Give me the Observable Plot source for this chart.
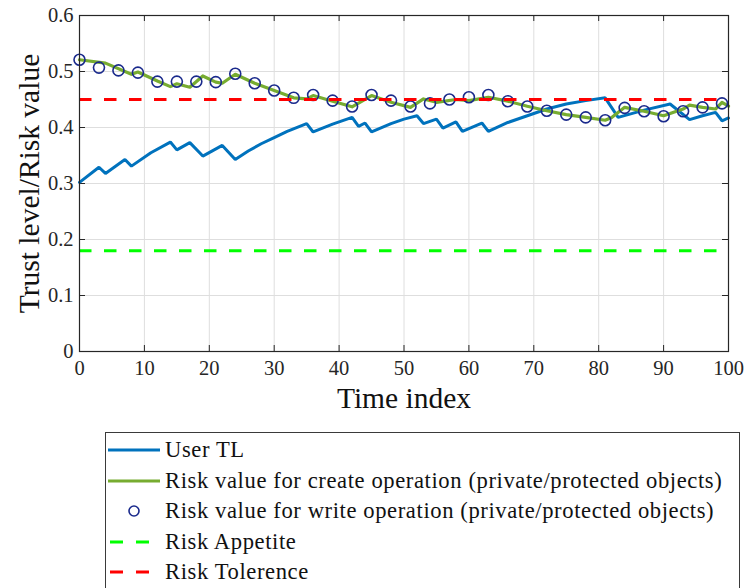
<!DOCTYPE html>
<html>
<head>
<meta charset="utf-8">
<script src="https://cdn.jsdelivr.net/npm/d3@7"></script>
<script src="https://cdn.jsdelivr.net/npm/@observablehq/plot@0.6"></script>
<style>
  body { margin: 0; background: #fff; }
  #chart { position: relative; width: 745px; height: 588px; overflow: hidden; background: #fff; }
  #chart svg.plot { position: absolute; left: 0; top: 0; }
  .legend { position: absolute; left: 105px; top: 432px; width: 635px; height: 200px;
            border: 1px solid #3a3a3a; background: #fff; box-sizing: border-box;
            font-family: "Liberation Serif", "DejaVu Serif", serif; font-size: 22.6px; color: #111; }
  .legend .row { position: absolute; left: 0; height: 30px; width: 100%; }
  .legend .row svg { position: absolute; left: 0; top: 0; }
  .legend .row span { position: absolute; left: 59px; top: 0; line-height: 30px; white-space: nowrap; letter-spacing: 0.6px; }
</style>
</head>
<body>
<div id="chart"></div>
<script>
// User trust level (TL) over time
const userTime = [0, 3, 4, 7, 8, 11, 14, 15, 17, 19, 22, 24, 26, 28, 30, 32, 35, 36, 39, 42, 43, 44, 45, 48, 50, 52, 53, 55, 56, 58, 59, 62, 63, 66, 69, 72, 75, 78, 81, 83, 87, 91, 94, 96, 98, 99, 100];
const userTL = [0.302, 0.329, 0.318, 0.343, 0.331, 0.355, 0.374, 0.360, 0.373, 0.349, 0.368, 0.343, 0.358, 0.371, 0.382, 0.393, 0.407, 0.392, 0.406, 0.418, 0.402, 0.408, 0.392, 0.407, 0.415, 0.421, 0.407, 0.415, 0.399, 0.410, 0.393, 0.408, 0.393, 0.409, 0.421, 0.433, 0.442, 0.448, 0.453, 0.418, 0.431, 0.442, 0.414, 0.421, 0.427, 0.412, 0.417];

// Risk value for the create operation
const createTime = [0, 4, 8, 9, 12, 14, 15, 17, 19, 21, 22, 24, 27, 30, 33, 35, 36, 39, 42, 45, 48, 51, 53, 55, 58, 60, 63, 66, 69, 72, 75, 78, 81, 82, 84, 87, 90, 93, 94, 96, 98, 99, 100];
const createRisk = [0.521, 0.515, 0.495, 0.499, 0.483, 0.473, 0.478, 0.472, 0.492, 0.481, 0.479, 0.495, 0.479, 0.466, 0.453, 0.451, 0.457, 0.447, 0.437, 0.457, 0.445, 0.436, 0.451, 0.445, 0.450, 0.448, 0.454, 0.447, 0.438, 0.430, 0.423, 0.418, 0.413, 0.418, 0.436, 0.429, 0.421, 0.433, 0.440, 0.436, 0.433, 0.445, 0.438];

// Risk value for the write operation
const writeTime = [0, 3, 6, 9, 12, 15, 18, 21, 24, 27, 30, 33, 36, 39, 42, 45, 48, 51, 54, 57, 60, 63, 66, 69, 72, 75, 78, 81, 84, 87, 90, 93, 96, 99];
const writeRisk = [0.521, 0.507, 0.502, 0.498, 0.482, 0.482, 0.482, 0.481, 0.496, 0.479, 0.466, 0.453, 0.458, 0.448, 0.4375, 0.458, 0.448, 0.4375, 0.443, 0.450, 0.454, 0.458, 0.447, 0.4375, 0.430, 0.423, 0.418, 0.413, 0.435, 0.429, 0.420, 0.429, 0.436, 0.443];

// Thresholds
const riskAppetite = 0.18;
const riskTolerence = 0.45;

// Axis ticks
const xTicks = [0, 10, 20, 30, 40, 50, 60, 70, 80, 90, 100];
const yTicks = [0, 0.1, 0.2, 0.3, 0.4, 0.5, 0.6];

const seriesNames = [
  "User TL",
  "Risk value for create operation (private/protected objects)",
  "Risk value for write operation (private/protected objects)",
  "Risk Appetite",
  "Risk Tolerence"
];
const seriesColors = ["#0072BD", "#77AC30", "#1a2a8c", "#00ff00", "#ff0000"];
const seriesKinds = ["line", "line", "circle", "dash", "dash"];

const userData = userTime.map((t, i) => ({t, v: userTL[i]}));
const createData = createTime.map((t, i) => ({t, v: createRisk[i]}));
const writeData = writeTime.map((t, i) => ({t, v: writeRisk[i]}));

const W = 745, H = 425;
const mTop = 15, mRight = 17, mBottom = 74, mLeft = 79;
const innerW = W - mLeft - mRight, innerH = H - mTop - mBottom;
const tickLen = 6;
const axisColor = "#262626";
const gridColor = "#dedede";
const serif = '"Liberation Serif", "DejaVu Serif", serif';

const chart = Plot.plot({
  width: W, height: H,
  marginTop: mTop, marginRight: mRight, marginBottom: mBottom, marginLeft: mLeft,
  style: {fontFamily: serif, fontSize: "20.5px", color: axisColor, background: "white", overflow: "visible"},
  x: {domain: [0, 100]},
  y: {domain: [0, 0.6]},
  marks: [
    Plot.gridX(xTicks, {stroke: gridColor, strokeOpacity: 1}),
    Plot.gridY(yTicks, {stroke: gridColor, strokeOpacity: 1}),
    Plot.axisX(xTicks, {tickSize: 0, tickPadding: 9, tickFormat: d => String(d), label: null, fill: axisColor, fontSize: 20.5}),
    Plot.axisY(yTicks, {tickSize: 0, tickPadding: 6, tickFormat: d => String(+d.toFixed(1)), label: null, fill: axisColor, fontSize: 20.5}),
    // inward ticks on all four sides
    Plot.tickX(xTicks, {x: d => d, insetTop: innerH - tickLen, stroke: axisColor}),
    Plot.tickX(xTicks, {x: d => d, insetBottom: innerH - tickLen, stroke: axisColor}),
    Plot.tickY(yTicks, {y: d => d, insetRight: innerW - tickLen, stroke: axisColor}),
    Plot.tickY(yTicks, {y: d => d, insetLeft: innerW - tickLen, stroke: axisColor}),
    Plot.line(userData, {x: "t", y: "v", stroke: seriesColors[0], strokeWidth: 3, strokeLinejoin: "miter"}),
    Plot.line(createData, {x: "t", y: "v", stroke: seriesColors[1], strokeWidth: 3.2}),
    Plot.dot(writeData, {x: "t", y: "v", r: 5.5, stroke: seriesColors[2], strokeWidth: 1.6, fill: "none"}),
    Plot.ruleY([riskAppetite], {stroke: seriesColors[3], strokeWidth: 3, strokeDasharray: "12.5,12.5"}),
    Plot.ruleY([riskTolerence], {stroke: seriesColors[4], strokeWidth: 3, strokeDasharray: "12.5,12.5"}),
    Plot.frame({stroke: axisColor, strokeWidth: 1.2}),
    Plot.text(["Time index"], {text: d => d, frameAnchor: "bottom", dy: 56, fontSize: 29.5, fill: "#111", fontFamily: serif}),
    Plot.text(["Trust level/Risk value"], {text: d => d, frameAnchor: "left", textAnchor: "middle", dx: -50, rotate: -90, fontSize: 29.5, fill: "#111", fontFamily: serif})
  ]
});
chart.classList.add("plot");
const root = document.getElementById("chart");
root.appendChild(chart);

// Legend box below the plot
const legend = d3.select(root).append("div").attr("class", "legend");
const rowCenters = [17, 47.5, 78, 108.5, 139];
seriesNames.forEach((name, i) => {
  const row = legend.append("div").attr("class", "row").style("top", (rowCenters[i] - 15) + "px");
  const sw = row.append("svg").attr("width", 58).attr("height", 30);
  if (seriesKinds[i] === "line") {
    sw.append("line").attr("x1", 2).attr("x2", 54).attr("y1", 15).attr("y2", 15)
      .attr("stroke", seriesColors[i]).attr("stroke-width", 3);
  } else if (seriesKinds[i] === "circle") {
    sw.append("circle").attr("cx", 28).attr("cy", 15).attr("r", 5)
      .attr("fill", "none").attr("stroke", seriesColors[i]).attr("stroke-width", 1.6);
  } else {
    sw.append("line").attr("x1", 4).attr("x2", 45).attr("y1", 15).attr("y2", 15)
      .attr("stroke", seriesColors[i]).attr("stroke-width", 3).attr("stroke-dasharray", "13,13");
  }
  row.append("span").text(name);
});
</script>
</body>
</html>
